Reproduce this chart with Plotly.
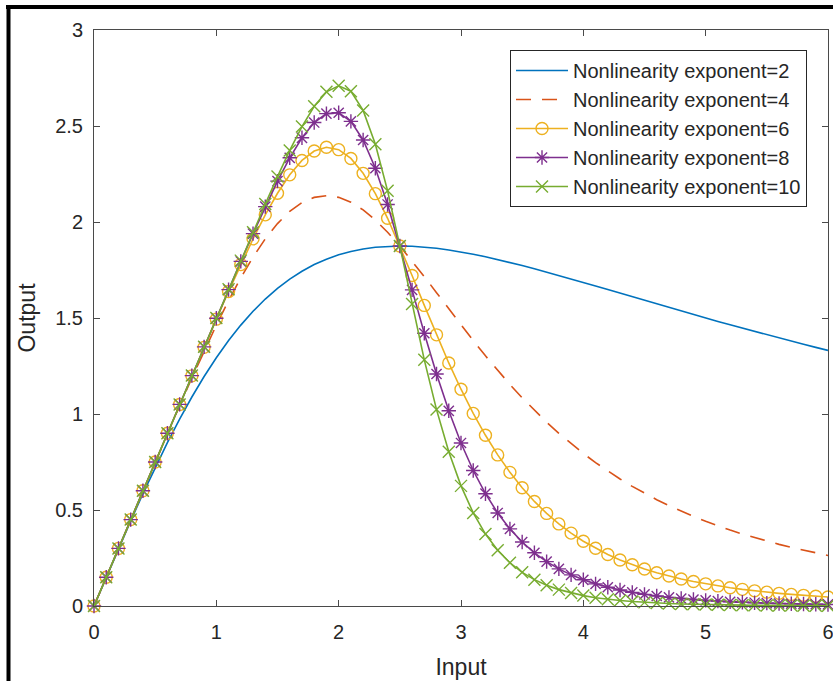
import plotly.graph_objects as go

# Input grid (step 0.1 from 0 to 6)
x_input = [round(i * 0.1, 1) for i in range(61)]

# Output for each nonlinearity exponent
y_exp2 = [0.0, 0.1498, 0.2981, 0.4436, 0.5850, 0.7212, 0.8510, 0.9737, 1.0885, 1.1951,
          1.2931, 1.3824, 1.4629, 1.5350, 1.5987, 1.6544, 1.7026, 1.7437, 1.7782, 1.8065,
          1.8293, 1.8468, 1.8598, 1.8685, 1.8734, 1.8750, 1.8736, 1.8694, 1.8630, 1.8545,
          1.8443, 1.8324, 1.8193, 1.8050, 1.7897, 1.7736, 1.7569, 1.7396, 1.7218, 1.7038,
          1.6854, 1.6668, 1.6482, 1.6294, 1.6107, 1.5920, 1.5733, 1.5548, 1.5364, 1.5181,
          1.5000, 1.4821, 1.4644, 1.4469, 1.4297, 1.4127, 1.3959, 1.3794, 1.3631, 1.3471,
          1.3314]
y_exp4 = [0.0, 0.1500, 0.3000, 0.4499, 0.5996, 0.7488, 0.8970, 1.0436, 1.1875, 1.3277,
          1.4626, 1.5904, 1.7093, 1.8171, 1.9120, 1.9919, 2.0552, 2.1008, 2.1281, 2.1370,
          2.1283, 2.1030, 2.0629, 2.0100, 1.9466, 1.8750, 1.7974, 1.7157, 1.6320, 1.5477,
          1.4641, 1.3822, 1.3028, 1.2265, 1.1536, 1.0844, 1.0189, 0.9573, 0.8993, 0.8451,
          0.7943, 0.7469, 0.7027, 0.6614, 0.6229, 0.5871, 0.5537, 0.5225, 0.4935, 0.4664,
          0.4412, 0.4176, 0.3956, 0.3750, 0.3558, 0.3378, 0.3209, 0.3051, 0.2903, 0.2764,
          0.2633]
y_exp6 = [0.0, 0.1500, 0.3000, 0.4500, 0.6000, 0.7500, 0.8998, 1.0495, 1.1987, 1.3471,
          1.4939, 1.6381, 1.7782, 1.9122, 2.0372, 2.1497, 2.2457, 2.3206, 2.3698, 2.3895,
          2.3769, 2.3311, 2.2535, 2.1477, 2.0193, 1.8750, 1.7216, 1.5656, 1.4123, 1.2659,
          1.1290, 1.0032, 0.8892, 0.7870, 0.6960, 0.6155, 0.5446, 0.4822, 0.4275, 0.3796,
          0.3375, 0.3006, 0.2683, 0.2398, 0.2148, 0.1928, 0.1733, 0.1561, 0.1409, 0.1274,
          0.1154, 0.1047, 0.0951, 0.0866, 0.0790, 0.0721, 0.0660, 0.0604, 0.0554, 0.0509,
          0.0469]
y_exp8 = [0.0, 0.1500, 0.3000, 0.4500, 0.6000, 0.7500, 0.9000, 1.0500, 1.1999, 1.3496,
          1.4990, 1.6477, 1.7949, 1.9396, 2.0799, 2.2128, 2.3343, 2.4385, 2.5181, 2.5646,
          2.5690, 2.5243, 2.4271, 2.2799, 2.0913, 1.8750, 1.6466, 1.4206, 1.2083, 1.0167,
          0.8491, 0.7057, 0.5850, 0.4845, 0.4015, 0.3332, 0.2771, 0.2311, 0.1933, 0.1622,
          0.1365, 0.1153, 0.0977, 0.0831, 0.0709, 0.0607, 0.0521, 0.0449, 0.0388, 0.0336,
          0.0292, 0.0254, 0.0222, 0.0194, 0.0171, 0.0150, 0.0132, 0.0117, 0.0104, 0.0092,
          0.0082]
y_exp10 = [0.0, 0.1500, 0.3000, 0.4500, 0.6000, 0.7500, 0.9000, 1.0500, 1.2000, 1.3500,
           1.4998, 1.6496, 1.7988, 1.9472, 2.0937, 2.2365, 2.3726, 2.4972, 2.6026, 2.6778,
           2.7091, 2.6811, 2.5811, 2.4052, 2.1624, 1.8750, 1.5724, 1.2821, 1.0229, 0.8038,
           0.6257, 0.4847, 0.3748, 0.2902, 0.2252, 0.1754, 0.1373, 0.1079, 0.0853, 0.0677,
           0.0541, 0.0434, 0.0350, 0.0283, 0.0231, 0.0189, 0.0155, 0.0128, 0.0106, 0.0088,
           0.0073, 0.0061, 0.0051, 0.0043, 0.0037, 0.0031, 0.0026, 0.0023, 0.0019, 0.0017,
           0.0014]

series_names = ["Nonlinearity exponent=2", "Nonlinearity exponent=4",
                "Nonlinearity exponent=6", "Nonlinearity exponent=8",
                "Nonlinearity exponent=10"]
series_values = [y_exp2, y_exp4, y_exp6, y_exp8, y_exp10]
series_colors = ["#0072BD", "#D95319", "#EDB120", "#7E2F8E", "#77AC30"]
series_dash = ["solid", "15px,11px", "solid", "solid", "solid"]
series_symbols = [None, None, "circle-open", "asterisk-open", "x-thin-open"]

x_ticks = [0, 1, 2, 3, 4, 5, 6]
y_ticks = [0, 0.5, 1, 1.5, 2, 2.5, 3]

FONT = "Liberation Sans, Arial, Helvetica, sans-serif"
TEXT = "#262626"
AXIS = "#4a4a4a"

fig = go.Figure()
for name, vals, col, dash, sym in zip(series_names, series_values, series_colors,
                                      series_dash, series_symbols):
    mode = "lines+markers" if sym else "lines"
    tr = dict(x=x_input, y=vals, name=name, mode=mode, cliponaxis=False,
              line=dict(color=col, width=1.6, dash=dash), legendgroup=name)
    if sym:
        tr["marker"] = dict(symbol=sym, size=12, color=col,
                            line=dict(color=col, width=1.4))
    fig.add_trace(go.Scatter(**tr))

axis_common = dict(
    showline=True, linecolor=AXIS, linewidth=1, mirror="ticks",
    ticks="inside", ticklen=6, tickcolor=AXIS, tickwidth=1,
    showgrid=False, zeroline=False, ticklabeloverflow="allow", automargin=False,
    tickfont=dict(family=FONT, size=20, color=TEXT),
)

fig.update_layout(
    width=833, height=681,
    margin=dict(l=94, r=5, t=30, b=75),
    paper_bgcolor="white", plot_bgcolor="white",
    font=dict(family=FONT, color=TEXT),
    xaxis=dict(range=[0, 6], tickvals=x_ticks, ticktext=[str(v) for v in x_ticks],
               ticklabelstandoff=8,
               title=dict(text="Input", font=dict(family=FONT, size=23, color=TEXT),
                          standoff=16),
               **axis_common),
    yaxis=dict(range=[0, 3], tickvals=y_ticks,
               ticktext=["0", "0.5", "1", "1.5", "2", "2.5", "3"],
               ticklabelstandoff=6,
               title=dict(text="Output", font=dict(family=FONT, size=23, color=TEXT),
                          standoff=13),
               **axis_common),
    legend=dict(x=0.9714, y=0.9653, xanchor="right", yanchor="top",
                bgcolor="white", bordercolor="#262626", borderwidth=1,
                font=dict(family=FONT, size=20, color=TEXT),
                itemwidth=52, tracegroupgap=1.5, traceorder="normal"),
    showlegend=True,
)

# Heavy black frame along the top and left edges of the figure
px_x = lambda p: (p - 94) / 734
px_y = lambda p: (606 - p) / 576
fig.add_shape(type="line", xref="paper", yref="paper",
              x0=px_x(6), x1=px_x(840), y0=px_y(7), y1=px_y(7),
              line=dict(color="black", width=4))
fig.add_shape(type="line", xref="paper", yref="paper",
              x0=px_x(8.5), x1=px_x(8.5), y0=px_y(5), y1=px_y(690),
              line=dict(color="black", width=4))

fig.write_html("out.html")
